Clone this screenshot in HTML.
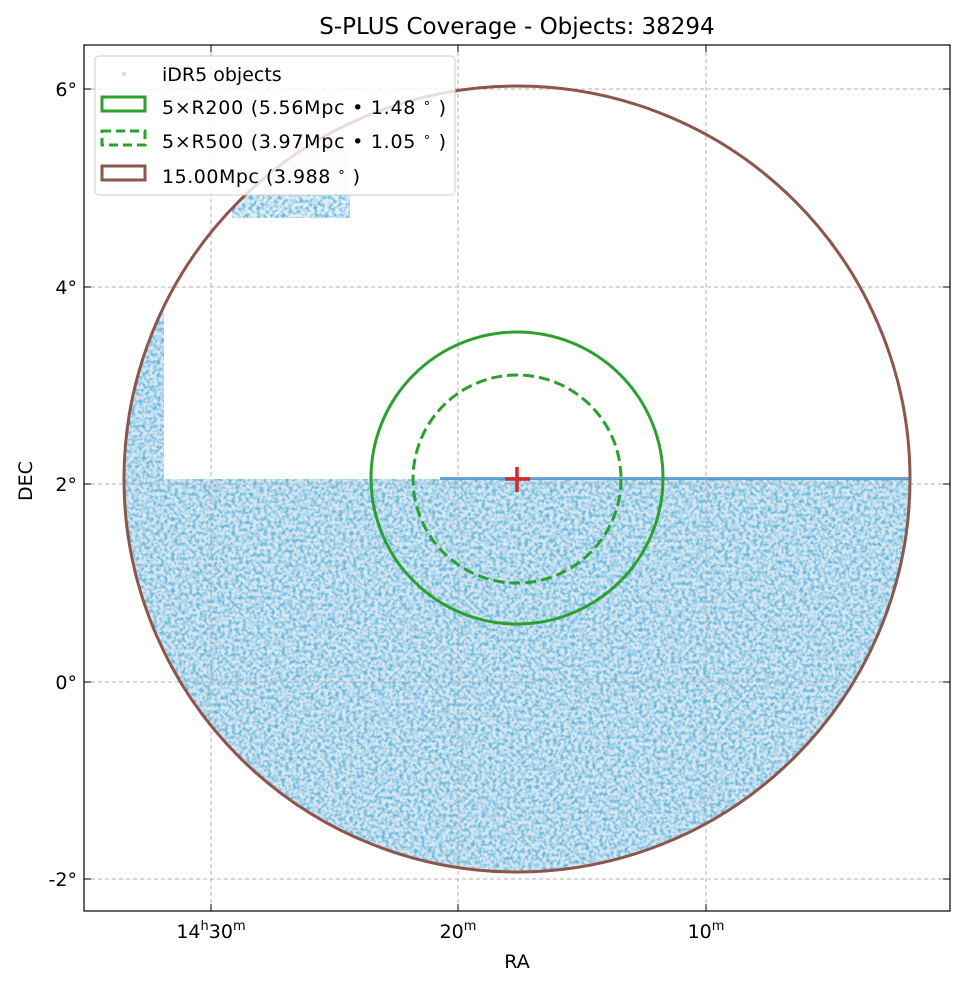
<!DOCTYPE html>
<html><head><meta charset="utf-8"><style>
body{margin:0;background:#fff;}
text{font-family:"DejaVu Sans","Liberation Sans",sans-serif;fill:#000;}
</style></head><body>
<svg width="965" height="986" viewBox="0 0 965 986" xmlns="http://www.w3.org/2000/svg">
<defs>
<clipPath id="cc"><circle cx="517" cy="479" r="393"/></clipPath>
<clipPath id="ax"><rect x="84" y="45" width="866" height="866"/></clipPath>
<filter id="tx" x="0" y="0" width="1" height="1">
<feTurbulence type="fractalNoise" baseFrequency="0.28" numOctaves="2" seed="3"/>
<feColorMatrix type="matrix" values="0 0 0 0 0.12  0 0 0 0 0.47  0 0 0 0 0.71  0 0 0 2.6 -1.0"/>
<feComposite in2="SourceGraphic" operator="in"/>
</filter>
</defs>
<rect x="0" y="0" width="965" height="986" fill="#fff"/>
<g clip-path="url(#cc)">
<g fill="#d6e6f3">
<rect x="84" y="479" width="866" height="440"/>
<rect x="124" y="313" width="40" height="166"/>
<rect x="232" y="150" width="118" height="68" fill="#e6eff7"/>
</g>
<g filter="url(#tx)" fill="#000">
<rect x="84" y="479" width="866" height="440"/>
<rect x="124" y="313" width="40" height="166"/>
<rect x="232" y="195" width="118" height="23"/>
</g>
<rect x="440" y="477" width="470" height="3" fill="#3f86bf" opacity="0.75"/>
</g>
<g stroke="#b0b0b0" stroke-width="1" stroke-dasharray="4,3" clip-path="url(#ax)">
<line x1="211" y1="45" x2="211" y2="911"/><line x1="458" y1="45" x2="458" y2="911"/><line x1="706" y1="45" x2="706" y2="911"/>
<line x1="84" y1="89" x2="950" y2="89"/><line x1="84" y1="287" x2="950" y2="287"/><line x1="84" y1="484" x2="950" y2="484"/><line x1="84" y1="682" x2="950" y2="682"/><line x1="84" y1="879" x2="950" y2="879"/>
</g>
<circle cx="517" cy="479" r="393" fill="none" stroke="#8c564b" stroke-width="3"/>
<circle cx="517" cy="478" r="146" fill="none" stroke="#2ca02c" stroke-width="3"/>
<circle cx="517" cy="479" r="104" fill="none" stroke="#2ca02c" stroke-width="3" stroke-dasharray="11,5"/>
<g stroke="#d62728" stroke-width="3.5"><line x1="505" y1="479" x2="530" y2="479"/><line x1="517" y1="467" x2="517" y2="492"/></g>
<rect x="84" y="45" width="866" height="866" fill="none" stroke="#000" stroke-width="1.2"/>
<g stroke="#000" stroke-width="1">
<line x1="211" y1="45" x2="211" y2="52"/><line x1="458" y1="45" x2="458" y2="52"/><line x1="706" y1="45" x2="706" y2="52"/>
<line x1="211" y1="911" x2="211" y2="904"/><line x1="458" y1="911" x2="458" y2="904"/><line x1="706" y1="911" x2="706" y2="904"/>
<line x1="84" y1="89" x2="91" y2="89"/><line x1="84" y1="287" x2="91" y2="287"/><line x1="84" y1="484" x2="91" y2="484"/><line x1="84" y1="682" x2="91" y2="682"/><line x1="84" y1="879" x2="91" y2="879"/>
<line x1="950" y1="89" x2="943" y2="89"/><line x1="950" y1="287" x2="943" y2="287"/><line x1="950" y1="484" x2="943" y2="484"/><line x1="950" y1="682" x2="943" y2="682"/><line x1="950" y1="879" x2="943" y2="879"/>
</g>
<g font-size="19">
<text x="77" y="96" text-anchor="end">6°</text>
<text x="77" y="294" text-anchor="end">4°</text>
<text x="77" y="491" text-anchor="end">2°</text>
<text x="77" y="689" text-anchor="end">0°</text>
<text x="77" y="886" text-anchor="end">-2°</text>
<text x="211" y="938" text-anchor="middle">14<tspan font-size="13" dy="-8">h</tspan><tspan dy="8">30</tspan><tspan font-size="13" dy="-8">m</tspan></text>
<text x="458" y="938" text-anchor="middle">20<tspan font-size="13" dy="-8">m</tspan></text>
<text x="706" y="938" text-anchor="middle">10<tspan font-size="13" dy="-8">m</tspan></text>
<text x="517" y="968" text-anchor="middle">RA</text>
<text x="32" y="481" text-anchor="middle" transform="rotate(-90 32 481)">DEC</text>
</g>
<text x="517" y="34" font-size="23" text-anchor="middle">S-PLUS Coverage - Objects: 38294</text>
<rect x="95" y="56" width="360" height="139" rx="4" fill="#fff" fill-opacity="0.8" stroke="#ccc"/>
<circle cx="124" cy="74" r="2" fill="#c8dcec"/>
<rect x="102" y="97" width="43" height="14" fill="none" stroke="#2ca02c" stroke-width="3"/>
<rect x="102" y="131" width="43" height="14" fill="none" stroke="#2ca02c" stroke-width="3" stroke-dasharray="9,5"/>
<rect x="102" y="166" width="43" height="14" fill="none" stroke="#8c564b" stroke-width="3"/>
<g font-size="19">
<text x="162" y="81">iDR5 objects</text>
<text x="162" y="114" textLength="284">5×R200 (5.56Mpc • 1.48 <tspan font-size="13" dy="-7">∘</tspan><tspan dy="7"> )</tspan></text>
<text x="162" y="148" textLength="284">5×R500 (3.97Mpc • 1.05 <tspan font-size="13" dy="-7">∘</tspan><tspan dy="7"> )</tspan></text>
<text x="162" y="183" textLength="198">15.00Mpc (3.988 <tspan font-size="13" dy="-7">∘</tspan><tspan dy="7"> )</tspan></text>
</g>
</svg>
</body></html>
